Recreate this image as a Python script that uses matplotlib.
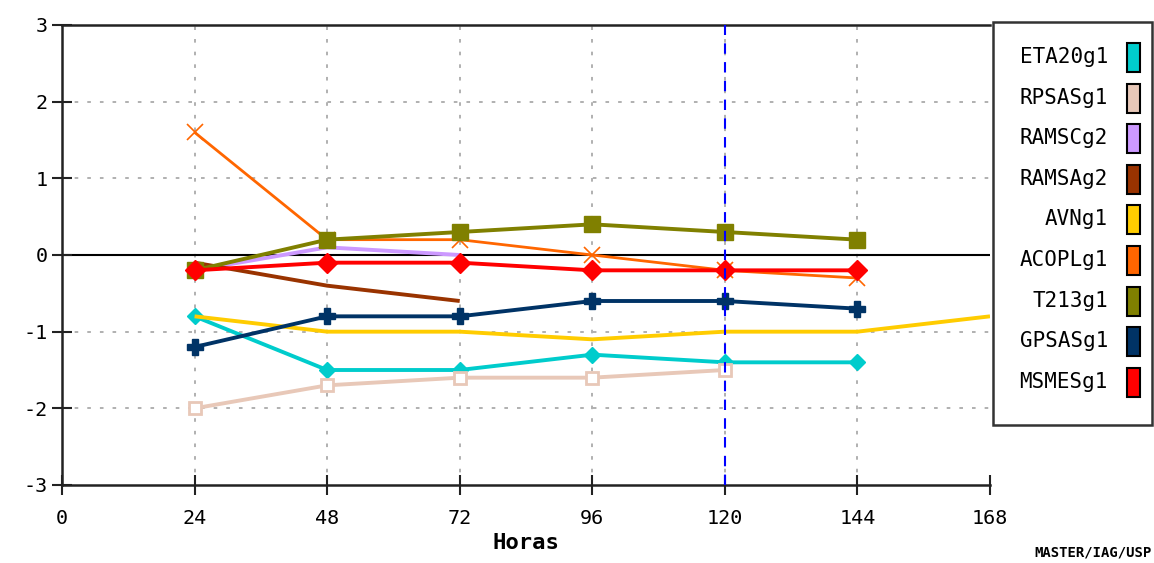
import matplotlib
matplotlib.use("Agg")
import matplotlib.pyplot as plt
from matplotlib.patches import Rectangle

hours = [24, 48, 72, 96, 120, 144, 168]

models = ["ETA20g1", "RPSASg1", "RAMSCg2", "RAMSAg2", "AVNg1",
          "ACOPLg1", "T213g1", "GPSASg1", "MSMESg1"]
colors = ["#00CCCC", "#E8C8B8", "#CC99FF", "#993300", "#FFCC00",
          "#FF6600", "#808000", "#003366", "#FF0000"]

eta20 = [-0.8, -1.5, -1.5, -1.3, -1.4, -1.4]
rpsas = [-2.0, -1.7, -1.6, -1.6, -1.5]
ramsc = [-0.2, 0.1, 0.0]
ramsa = [-0.1, -0.4, -0.6]
avn = [-0.8, -1.0, -1.0, -1.1, -1.0, -1.0, -0.8]
acopl = [1.6, 0.2, 0.2, 0.0, -0.2, -0.3]
t213 = [-0.2, 0.2, 0.3, 0.4, 0.3, 0.2]
gpsas = [-1.2, -0.8, -0.8, -0.6, -0.6, -0.7]
msmes = [-0.2, -0.1, -0.1, -0.2, -0.2, -0.2]

series = [eta20, rpsas, ramsc, ramsa, avn, acopl, t213, gpsas, msmes]

xticks = [0, 24, 48, 72, 96, 120, 144, 168]
yticks = [-3, -2, -1, 0, 1, 2, 3]
analysis_hour = 120

mono = "DejaVu Sans Mono"

fig = plt.figure(figsize=(11.54, 5.63), dpi=100)
ax = fig.add_axes([62 / 1154, 1 - 485 / 563, 928 / 1154, 460 / 563])
ax.set_xlim(0, 168)
ax.set_ylim(-3, 3)

# dotted grid
for x in xticks[1:-1]:
    ax.axvline(x, color="#AAAAAA", lw=1.3, ls=(0, (2, 5)), zorder=0)
for y in yticks:
    if y not in (-3, 0, 3):
        ax.axhline(y, color="#AAAAAA", lw=1.3, ls=(0, (2, 5)), zorder=0)
ax.axhline(0, color="black", lw=1.5, zorder=1)

styles = {
    "ETA20g1": dict(lw=2.8, marker="D", ms=8, mfc=colors[0], mec=colors[0]),
    "RPSASg1": dict(lw=2.8, marker="s", ms=8, mfc="white", mec=colors[1], mew=2),
    "RAMSCg2": dict(lw=2.8, marker=None),
    "RAMSAg2": dict(lw=2.8, marker=None),
    "AVNg1": dict(lw=2.8, marker=None),
    "ACOPLg1": dict(lw=2.0, marker="x", ms=11, mec=colors[5], mew=1.2),
    "T213g1": dict(lw=2.8, marker="s", ms=11, mfc=colors[6], mec=colors[6]),
    "GPSASg1": dict(lw=2.8, marker="P", ms=11, mfc=colors[7], mec=colors[7]),
    "MSMESg1": dict(lw=2.8, marker="D", ms=10, mfc=colors[8], mec=colors[8]),
}

for name, col, vals in zip(models, colors, series):
    ax.plot(hours[:len(vals)], vals, color=col, zorder=3,
            solid_capstyle="butt", **styles[name])

ax.axvline(analysis_hour, color="#0000FF", lw=1.5, ls=(0, (5, 4)), zorder=4)

ax.set_xticks(xticks)
ax.set_yticks(yticks)
ax.set_xticklabels([str(v) for v in xticks], family=mono, fontsize=14.5)
ax.set_yticklabels([str(v) for v in yticks], family=mono, fontsize=14.5)
ax.tick_params(axis="both", direction="inout", length=14, width=1.5,
               color="#222222")
ax.tick_params(axis="x", pad=10)
ax.tick_params(axis="y", pad=3)
for side in ("left", "bottom", "top"):
    ax.spines[side].set_linewidth(1.8)
    ax.spines[side].set_color("#222222")
ax.spines["right"].set_visible(False)

ax.set_xlabel("Horas", family=mono, fontsize=16, fontweight="bold",
              labelpad=4)

fig.text(1152 / 1154, 1 - 553 / 563, "MASTER/IAG/USP", family=mono,
         fontsize=10, fontweight="bold", ha="right", va="center")

# legend panel
leg_ax = fig.add_axes([0, 0, 1, 1], facecolor="none")
leg_ax.set_xlim(0, 1154)
leg_ax.set_ylim(563, 0)
leg_ax.axis("off")
leg_ax.add_patch(Rectangle((993, 22), 159, 403, fill=False,
                           ec="#333333", lw=1.8))
for i, (name, col) in enumerate(zip(models, colors)):
    yc = 57 + i * 40.6
    leg_ax.text(1108, yc, name, family=mono, fontsize=15,
                ha="right", va="center")
    leg_ax.add_patch(Rectangle((1127, yc - 14), 13, 29, fc=col,
                               ec="black", lw=1.5))

fig.savefig("out.png", dpi=100)
